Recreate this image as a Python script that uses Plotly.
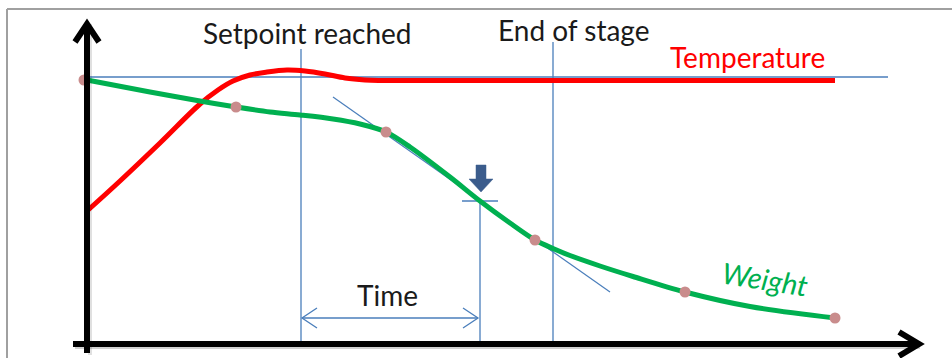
import plotly.graph_objects as go

# Time axis origin at the vertical axis; values measured upward from the time axis.
temp_t = [0, 33, 73, 113, 131, 146, 163, 180, 200, 218, 238, 258, 278, 293, 748]
temp_v = [133, 163, 201, 240, 254, 263, 269, 272, 274, 273, 270, 266, 264, 263.5, 263.5]

weight_t = [0, 63, 113, 149, 183, 213, 246, 273, 299, 323, 363, 393, 423, 448, 466, 483,
            513, 546, 598, 663, 748]
weight_v = [264, 252, 243, 237, 232, 229, 225, 220, 212, 197, 167, 143, 121, 104, 95.5, 88.5,
            78, 67.5, 52, 37.5, 26]

sample_t = [-3, 149, 299, 448, 598, 748]
sample_v = [264, 237, 212, 104, 52, 26]

tangent_t = [246, 523]
tangent_v = [247, 52]

setpoint_t = 214
end_stage_t = 466
marker_t = 393
marker_v = 143
reference_v = 267

BLUE = "#4a7ebb"
GREEN = "#00b050"
RED = "#ff0000"
DOT = "#c98c8c"
TEXT = "#1a1a1a"
FONT = "Lato, sans-serif"

fig = go.Figure()

fig.add_trace(go.Scatter(x=tangent_t, y=tangent_v, mode="lines",
                         line=dict(color=BLUE, width=1.2), hoverinfo="skip"))
fig.add_trace(go.Scatter(x=temp_t, y=temp_v, mode="lines", line_shape="spline",
                         line=dict(color=RED, width=5), name="Temperature"))
fig.add_trace(go.Scatter(x=weight_t, y=weight_v, mode="lines", line_shape="spline",
                         line=dict(color=GREEN, width=5, smoothing=0.9), name="Weight"))
fig.add_trace(go.Scatter(x=sample_t, y=sample_v, mode="markers",
                         marker=dict(color=DOT, size=11, line=dict(width=0)),
                         name="Samples"))

shapes = []


def seg(x0, y0, x1, y1, color=BLUE, width=1.3, layer="below"):
    shapes.append(dict(type="line", x0=x0, y0=y0, x1=x1, y1=y1, layer=layer,
                       line=dict(color=color, width=width)))


def path(d, color, width, layer="above", fill=None):
    s = dict(type="path", path=d, layer=layer, line=dict(color=color, width=width))
    if fill:
        s["fillcolor"] = fill
    shapes.append(s)


# reference level and event markers
seg(0, reference_v, 801, reference_v)
seg(setpoint_t, -1, setpoint_t, 295)
seg(end_stage_t, 0, end_stage_t, 302)
seg(marker_t, 0, marker_t, marker_v)
seg(marker_t - 18, marker_v, marker_t + 18, marker_v)

# duration arrow between setpoint and marker
arrow_v = 26
seg(setpoint_t + 1, arrow_v, marker_t - 2, arrow_v)
path(f"M {setpoint_t + 16},{arrow_v + 10} L {setpoint_t + 1},{arrow_v} L {setpoint_t + 16},{arrow_v - 10}",
     BLUE, 1.3, layer="below")
path(f"M {marker_t - 17},{arrow_v + 10} L {marker_t - 2},{arrow_v} L {marker_t - 17},{arrow_v - 10}",
     BLUE, 1.3, layer="below")

# block arrow pointing at the marker
bx, tip = marker_t + 1, marker_v + 9
path(f"M {bx - 5},{tip + 27} L {bx + 5},{tip + 27} L {bx + 5},{tip + 13} L {bx + 12},{tip + 13} "
     f"L {bx},{tip} L {bx - 12},{tip + 13} L {bx - 5},{tip + 13} Z",
     "#3b5c8c", 0.5, fill="#3b5c8c")

# axis shadows
seg(-12, -3, 833, -3, color="rgba(0,0,0,0.18)", width=4, layer="above")
seg(3, -11, 3, 320, color="rgba(0,0,0,0.12)", width=4, layer="above")

# axes with open arrowheads
seg(-14, 0, 833, 0, color="black", width=6, layer="above")
seg(0, -9, 0, 320, color="black", width=6, layer="above")
path("M -12,302 L 0,320 L 12,302", "black", 6)
path("M 812,12 L 832,0 L 812,-12", "black", 6)

# frame
shapes.append(dict(type="line", xref="paper", yref="paper", x0=7 / 952, x1=1,
                   y0=1 - 9 / 358, y1=1 - 9 / 358, line=dict(color="#a0a0a0", width=2)))
shapes.append(dict(type="line", xref="paper", yref="paper", x0=7 / 952, x1=7 / 952,
                   y0=0, y1=1 - 9 / 358, line=dict(color="#a0a0a0", width=2)))

annotations = [
    dict(x=220, y=311, text="Setpoint reached", font=dict(size=28, color=TEXT, family=FONT)),
    dict(x=486, y=314, text="End of stage", font=dict(size=28, color=TEXT, family=FONT)),
    dict(x=660, y=287, text="Temperature", font=dict(size=28, color=RED, family=FONT)),
    dict(x=300, y=49, text="Time", font=dict(size=28, color=TEXT, family=FONT)),
    dict(x=678, y=66, text="<i>Weight</i>", textangle=9,
         font=dict(size=29, color=GREEN, family=FONT)),
]
for a in annotations:
    a.update(showarrow=False, xanchor="center", yanchor="middle")

fig.update_layout(
    width=952, height=358,
    margin=dict(l=0, r=0, t=0, b=0),
    paper_bgcolor="white", plot_bgcolor="white",
    showlegend=False,
    xaxis=dict(range=[-87, 865], visible=False, fixedrange=True),
    yaxis=dict(range=[-14, 344], visible=False, fixedrange=True),
    shapes=shapes, annotations=annotations,
)

fig.write_html("out.html")
